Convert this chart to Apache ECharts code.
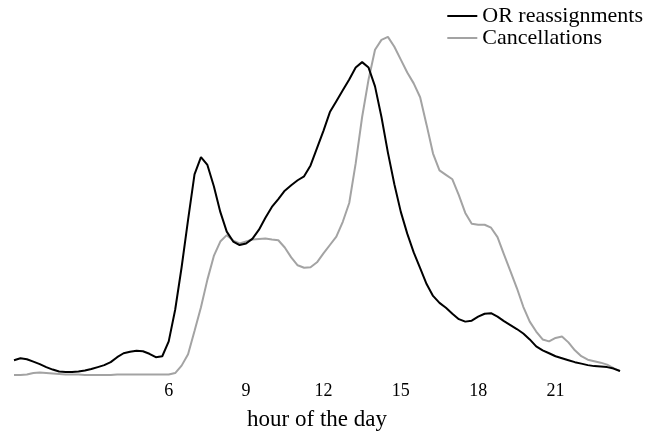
<!DOCTYPE html>
<html>
<head>
<meta charset="utf-8">
<script src="https://cdn.jsdelivr.net/npm/echarts@6/dist/echarts.min.js"></script>
<style>
  html, body { margin: 0; padding: 0; background: #fff; }
  #chart { width: 656px; height: 436px; }
</style>
</head>
<body>
<div id="chart"></div>
<script>
// Share of events by time of day, sampled every quarter hour (0:00 to 23:30)
const hourStep = 0.25;
const hourTicks = [6, 9, 12, 15, 18, 21];
const axisTitle = 'hour of the day';
const seriesNames = ['OR reassignments', 'Cancellations'];

const orReassignments = [
  1.6, 1.8, 1.7, 1.45, 1.2, 0.9, 0.65, 0.45, 0.4, 0.4,
  0.45, 0.55, 0.7, 0.9, 1.1, 1.4, 1.9, 2.3, 2.45, 2.55,
  2.5, 2.25, 1.9, 2.0, 3.5, 6.7, 11.0, 15.8, 20.4, 22.15,
  21.35, 19.2, 16.6, 14.6, 13.6, 13.25, 13.4, 13.9, 14.8, 16.0,
  17.1, 17.9, 18.75, 19.3, 19.8, 20.2, 21.3, 23.05, 24.8, 26.7,
  27.8, 28.9, 30.0, 31.2, 31.75, 31.2, 29.3, 26.2, 22.6, 19.4,
  16.6, 14.4, 12.5, 10.9, 9.3, 8.1, 7.4, 6.9, 6.3, 5.75,
  5.5, 5.6, 6.0, 6.3, 6.35, 6.0, 5.55, 5.15, 4.75, 4.3,
  3.7, 3.0, 2.6, 2.3, 2.0, 1.8, 1.6, 1.4, 1.25, 1.1,
  1.0, 0.95, 0.9, 0.75, 0.5
];

const cancellations = [
  0.1, 0.1, 0.15, 0.3, 0.35, 0.3, 0.25, 0.2, 0.15, 0.15,
  0.15, 0.1, 0.1, 0.1, 0.1, 0.1, 0.15, 0.15, 0.15, 0.15,
  0.15, 0.15, 0.15, 0.15, 0.15, 0.3, 1.05, 2.2, 4.55, 6.95,
  9.75, 12.15, 13.6, 14.25, 13.7, 13.4, 13.6, 13.8, 13.85, 13.9,
  13.8, 13.73, 13.0, 12.0, 11.2, 10.95, 11.0, 11.5, 12.4, 13.25,
  14.1, 15.6, 17.5, 21.5, 26.2, 30.0, 33.0, 34.0, 34.3, 33.3,
  32.0, 30.7, 29.6, 28.2, 25.4, 22.5, 20.8, 20.35, 19.9, 18.3,
  16.5, 15.4, 15.3, 15.3, 15.0, 14.05, 12.3, 10.6, 8.9, 7.0,
  5.5, 4.5, 3.7, 3.5, 3.85, 4.0, 3.4, 2.6, 2.0, 1.65,
  1.5, 1.35, 1.15, 0.8, 0.5
];

const hours = orReassignments.map((_, i) => i * hourStep);
const pairs = (vals) => vals.map((v, i) => [hours[i], v]);

const serif = "'Liberation Serif', 'DejaVu Serif', serif";

const chart = echarts.init(document.getElementById('chart'), null, { renderer: 'canvas' });
chart.setOption({
  animation: false,
  backgroundColor: '#ffffff',
  grid: { left: 14, right: 36, top: 30, bottom: 54, containLabel: false },
  legend: {
    orient: 'vertical',
    right: 8,
    top: 0,
    icon: 'rect',
    itemWidth: 30,
    itemHeight: 2,
    itemGap: 0,
    textStyle: { fontFamily: serif, fontSize: 22, color: '#000', lineHeight: 21 },
    data: seriesNames
  },
  xAxis: {
    type: 'value',
    min: 0,
    max: 23.5,
    interval: 3,
    name: axisTitle,
    nameLocation: 'middle',
    nameGap: 32,
    nameTextStyle: { fontFamily: serif, fontSize: 23, color: '#000' },
    axisLine: { show: false },
    axisTick: { show: false },
    splitLine: { show: false },
    axisLabel: {
      customValues: hourTicks,
      fontFamily: serif,
      fontSize: 18,
      color: '#000',
      margin: 6
    }
  },
  yAxis: {
    type: 'value',
    min: 0,
    max: 35,
    show: false,
    splitLine: { show: false }
  },
  series: [
    {
      name: seriesNames[0],
      type: 'line',
      data: pairs(orReassignments),
      symbol: 'none',
      lineStyle: { color: '#000000', width: 2 },
      itemStyle: { color: '#000000' },
      z: 3
    },
    {
      name: seriesNames[1],
      type: 'line',
      data: pairs(cancellations),
      symbol: 'none',
      lineStyle: { color: '#a3a3a3', width: 2 },
      itemStyle: { color: '#a3a3a3' },
      z: 2
    }
  ]
});
</script>
</body>
</html>
